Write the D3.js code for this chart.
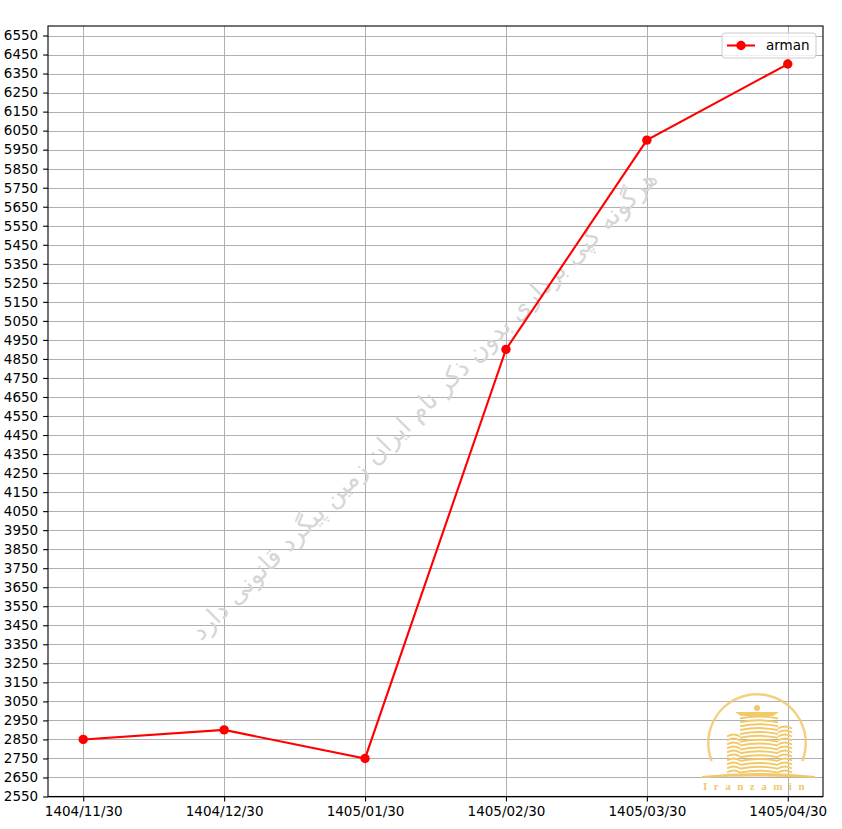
<!DOCTYPE html>
<html lang="en">
	<head>
		<meta charset="utf-8">
		<title>arman</title>
		<style>
			body { margin: 0; background: #fff; }
			text { font-family: "DejaVu Sans", sans-serif; }
			.grid line { stroke: #b0b0b0; stroke-width: 1px; }
			.axis path, .axis line { stroke: #000; stroke-width: 1.1px; }
			.axis text { font-size: 13.5px; fill: #000; }
		</style>
	</head>
	<body>
		<div id="graphic"></div>

		<script src="https://cdnjs.cloudflare.com/ajax/libs/d3/7.8.5/d3.min.js"></script>
		<script>
			var dates = ['1404/11/30', '1404/12/30', '1405/01/30', '1405/02/30', '1405/03/30', '1405/04/30'];
			var arman = [2850, 2900, 2750, 4900, 6000, 6400];
			var yTicks = d3.range(2550, 6551, 100);
			var seriesName = 'arman';
			var watermark = 'هرگونه کپی برداری بدون ذکر نام ایران زمین پیگرد قانونی دارد';

			var width = 842,
				height = 829,
				plotLeft = 48, plotRight = 823, plotTop = 26, plotBottom = 796.5;

			var svg = d3.select('#graphic')
						.append('svg')
						.attr('width', width)
						.attr('height', height);

			var x = d3.scaleLinear()
					  .domain([-0.25, dates.length - 0.75])
					  .range([plotLeft, plotRight]);

			var y = d3.scaleLinear()
					  .domain([d3.min(arman) - 200, d3.max(arman) + 200])
					  .range([plotBottom, plotTop]);

			function px(v) { return Math.round(v) + 0.5; }

			// grid
			var grid = svg.append('g').classed('grid', true);
			grid.selectAll('.gx')
				.data(dates)
				.enter().append('line')
				.attr('x1', function(d, i) { return px(x(i)); })
				.attr('x2', function(d, i) { return px(x(i)); })
				.attr('y1', plotTop).attr('y2', plotBottom);
			grid.selectAll('.gy')
				.data(yTicks)
				.enter().append('line')
				.attr('x1', plotLeft).attr('x2', plotRight)
				.attr('y1', function(d) { return px(y(d)); })
				.attr('y2', function(d) { return px(y(d)); });

			// watermark
			var wm = svg.append('text')
						.attr('text-anchor', 'middle')
						.attr('dominant-baseline', 'middle')
						.attr('direction', 'rtl')
						.style('font-size', '22px')
						.attr('fill', '#d6d6d6')
						.text(watermark);
			var wmLen = wm.node().getComputedTextLength();
			var sc = 650 / wmLen;
			wm.attr('transform', 'translate(425,406) rotate(-45.2) scale(' + sc + ')');

			// logo
			var logo = svg.append('g').attr('transform', 'translate(757,743)');
			var gold = '#f2c96a';
			logo.append('path')
				.attr('d', d3.arc()({ innerRadius: 47.5, outerRadius: 50, startAngle: -Math.PI * 0.62, endAngle: Math.PI * 0.62 }))
				.attr('fill', gold).attr('opacity', 0.85);
			var towers = [
				{ x0: -30, x1: -17, y0: -8, y1: 32, n: 10 },
				{ x0: 21, x1: 35, y0: -16, y1: 32, n: 12 },
				{ x0: -17, x1: 21, y0: -26, y1: 32, n: 15 }
			];
			towers.forEach(function(t) {
				var step = (t.y1 - t.y0) / t.n;
				d3.range(t.n).forEach(function(k) {
					var yy = t.y0 + k * step;
					var xm = (t.x0 + t.x1) / 2;
					logo.append('path')
						.attr('d', 'M' + t.x0 + ',' + (yy + 1.5) + ' Q' + xm + ',' + (yy - 2.5) + ' ' + t.x1 + ',' + (yy + 1.5))
						.attr('fill', 'none').attr('stroke', gold).attr('stroke-width', 2);
				});
			});
			logo.append('path')
				.attr('d', 'M-22,-31 L22,-31 L16,-27 L-16,-27 Z')
				.attr('fill', gold);
			logo.append('circle').attr('cx', 0).attr('cy', -35).attr('r', 3).attr('fill', gold);
			logo.append('path')
				.attr('d', 'M-55,34 Q0,28 58,34 Q0,31 -55,34 Z')
				.attr('fill', 'none').attr('stroke', gold).attr('stroke-width', 2);
			logo.append('text')
				.attr('x', 0).attr('y', 47)
				.attr('text-anchor', 'middle')
				.style('font-family', '"Liberation Serif", serif')
				.style('font-size', '11px')
				.style('font-weight', 'bold')
				.style('letter-spacing', '6.5px')
				.attr('fill', gold)
				.text('Iranzamin');

			// series
			var line = d3.line()
						 .x(function(d, i) { return x(i); })
						 .y(function(d) { return y(d); });
			svg.append('path')
			   .datum(arman)
			   .attr('d', line)
			   .attr('fill', 'none')
			   .attr('stroke', '#ff0000')
			   .attr('stroke-width', 2.1);
			svg.selectAll('.pt')
			   .data(arman)
			   .enter().append('circle')
			   .attr('cx', function(d, i) { return x(i); })
			   .attr('cy', function(d) { return y(d); })
			   .attr('r', 4.7)
			   .attr('fill', '#ff0000');

			// axes
			var xAxis = d3.axisBottom(x)
						  .tickValues(d3.range(dates.length))
						  .tickFormat(function(i) { return dates[i]; })
						  .tickSize(4.9).tickPadding(4.9);
			svg.append('g').classed('axis', true)
			   .attr('transform', 'translate(0,' + plotBottom + ')')
			   .call(xAxis)
			   .call(function(g) { g.select('.domain').remove(); });

			var yAxis = d3.axisLeft(y)
						  .tickValues(yTicks)
						  .tickFormat(d3.format('d'))
						  .tickSize(4.9).tickPadding(4.9);
			svg.append('g').classed('axis', true)
			   .attr('transform', 'translate(' + plotLeft + ',0)')
			   .call(yAxis)
			   .call(function(g) { g.select('.domain').remove(); });

			svg.append('rect')
			   .attr('x', plotLeft).attr('y', plotTop)
			   .attr('width', plotRight - plotLeft).attr('height', plotBottom - plotTop)
			   .attr('fill', 'none').attr('stroke', '#000').attr('stroke-width', 1.1);

			// legend
			var lg = svg.append('g').attr('transform', 'translate(722,33)');
			lg.append('rect')
			  .attr('width', 94).attr('height', 25).attr('rx', 3)
			  .attr('fill', '#fff').attr('fill-opacity', 0.8)
			  .attr('stroke', '#cccccc');
			lg.append('line')
			  .attr('x1', 5).attr('x2', 33).attr('y1', 12.5).attr('y2', 12.5)
			  .attr('stroke', '#ff0000').attr('stroke-width', 2.1);
			lg.append('circle').attr('cx', 19).attr('cy', 12.5).attr('r', 4.7).attr('fill', '#ff0000');
			lg.append('text')
			  .attr('x', 44).attr('y', 17)
			  .style('font-size', '13.5px')
			  .text(seriesName);
		</script>
	</body>
</html>
